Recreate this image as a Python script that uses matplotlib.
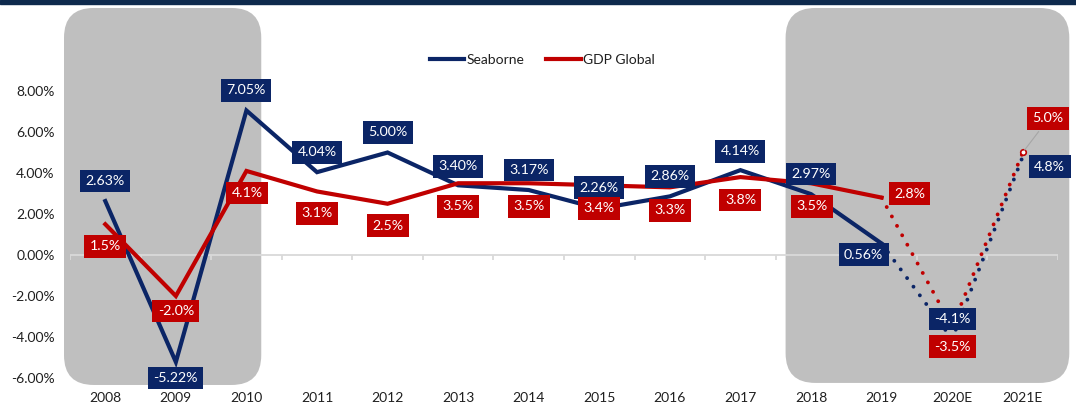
import numpy as np
import matplotlib
matplotlib.use("Agg")
import matplotlib.pyplot as plt
from matplotlib.patches import FancyBboxPatch, Rectangle

# ---- data ----
years = ["2008", "2009", "2010", "2011", "2012", "2013", "2014", "2015",
         "2016", "2017", "2018", "2019", "2020E", "2021E"]
seaborne = [2.63, -5.22, 7.05, 4.04, 5.00, 3.40, 3.17, 2.26, 2.86, 4.14, 2.97, 0.56, -4.1, 4.8]
gdp_global = [1.5, -2.0, 4.1, 3.1, 2.5, 3.5, 3.5, 3.4, 3.3, 3.8, 3.5, 2.8, -3.5, 5.0]
seaborne_labels = ["2.63%", "-5.22%", "7.05%", "4.04%", "5.00%", "3.40%", "3.17%", "2.26%",
                   "2.86%", "4.14%", "2.97%", "0.56%", "-4.1%", "4.8%"]
gdp_labels = ["1.5%", "-2.0%", "4.1%", "3.1%", "2.5%", "3.5%", "3.5%", "3.4%",
              "3.3%", "3.8%", "3.5%", "2.8%", "-3.5%", "5.0%"]
y_ticks = [-6, -4, -2, 0, 2, 4, 6, 8]
last_actual = 11  # index of 2019; later years are estimates

NAVY = "#0b2566"
RED = "#c00000"
GREY_BOX = "#bfbfbf"
TEXT = "#1f1f1f"

plt.rcParams["font.family"] = ["Lato", "DejaVu Sans"]

fig = plt.figure(figsize=(10.76, 4.18), dpi=100)
ax = fig.add_axes([70 / 1076, 1 - 378 / 418, 988 / 1076, 369 / 418])
n = len(years)
x = np.arange(n)
ax.set_xlim(-0.5, n - 0.5)
ax.set_ylim(-6, 12)

# dark band along the top edge
fig.patches.append(Rectangle((0, 1 - 4 / 418), 1, 4 / 418, transform=fig.transFigure,
                             color="#0e2a4d", zorder=0))

# shaded periods (crisis years and forecast years)
for x0, x1, y0, y1 in [(-0.585, 2.21, -6.34, 12.05), (9.64, 13.66, -6.24, 12.05)]:
    ax.add_patch(FancyBboxPatch((x0, y0), x1 - x0, y1 - y0,
                                boxstyle="round,pad=0,rounding_size=0.42",
                                mutation_aspect=3.45, facecolor=GREY_BOX,
                                edgecolor="none", clip_on=False, zorder=0))

# zero axis with category-boundary ticks
ax.axhline(0, color="#d9d9d9", lw=1.3, zorder=1)
ax.vlines(np.arange(n + 1) - 0.5, -0.25, 0, color="#d9d9d9", lw=1.3, zorder=1)

# actual values (solid) and estimates (dotted)
ax.plot(x[:last_actual + 1], seaborne[:last_actual + 1], color=NAVY, lw=3.0,
        solid_joinstyle="miter", zorder=3, label="Seaborne")
ax.plot(x[:last_actual + 1], gdp_global[:last_actual + 1], color=RED, lw=3.0,
        solid_joinstyle="miter", zorder=3, label="GDP Global")
ax.plot(x[last_actual:], seaborne[last_actual:], color=NAVY, lw=2.8,
        linestyle=(0, (0.01, 2.75)), dash_capstyle="round", zorder=3)
ax.plot(x[last_actual:], gdp_global[last_actual:], color=RED, lw=2.8,
        linestyle=(0, (0.01, 2.75)), dash_capstyle="round", zorder=3)
ax.plot(x[-1], gdp_global[-1], marker="o", ms=4, mfc="white", mec=RED, mew=1.2, zorder=4)

# value labels: offsets in pixels (dx, dy)
sea_off = [(0, 20), (0, -16), (0, 20), (0, 20), (0, 20), (0, 19), (0, 20), (0, 21),
           (0, 20), (0, 19), (0, 20), (-18, -11), (0, 20), (27, -10)]
gdp_off = [(0, -22), (0, -15), (1, -22), (0, -22), (0, -22), (0, -23), (0, -23), (0, -23),
           (0, -23), (0, -23), (1, -23), (28, 4), (0, -20), (25, 34)]

def put_labels(values, texts, offsets, color):
    for i, (v, t, off) in enumerate(zip(values, texts, offsets)):
        ax.annotate(t, (i, v), xytext=off, textcoords="offset pixels",
                    ha="center", va="center", color="white", fontsize=10.2,
                    bbox=dict(boxstyle="square,pad=0.38", fc=color, ec="none"),
                    zorder=6, annotation_clip=False)

put_labels(seaborne, seaborne_labels, sea_off, NAVY)
put_labels(gdp_global, gdp_labels, gdp_off, RED)

# leader line for the last GDP label
ax.annotate("", (x[-1], gdp_global[-1]), xytext=(16, 21), textcoords="offset pixels",
            arrowprops=dict(arrowstyle="-", color="#a6a6a6", lw=0.8,
                            shrinkA=0, shrinkB=2), zorder=5)

# axes styling
for s in ax.spines.values():
    s.set_visible(False)
ax.set_xticks(x)
ax.set_xticklabels(years)
ax.set_yticks(y_ticks)
ax.set_yticklabels([f"{v:.2f}%" for v in y_ticks])
ax.tick_params(axis="x", length=0, pad=10, labelsize=10, labelcolor=TEXT)
ax.tick_params(axis="y", length=0, pad=11, labelsize=10, labelcolor=TEXT)

ax.legend(loc="center", bbox_to_anchor=(0.478, 0.862), ncol=2, frameon=False,
          fontsize=10, handlelength=2.5, handletextpad=0.15, columnspacing=1.6,
          labelcolor=TEXT)

fig.savefig("out.png", dpi=100)
